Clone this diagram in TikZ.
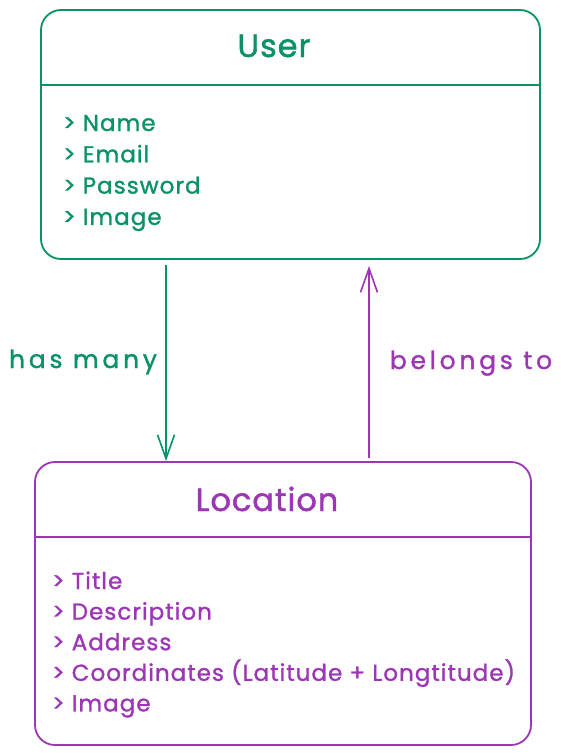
\documentclass[tikz,border=0pt]{standalone}
\usepackage{fontspec}
\setmainfont{Poppins}
\newfontfamily\hand[LetterSpace=4.5,FakeBold=1.2]{Poppins}
\newfontfamily\handtitle[LetterSpace=3,FakeBold=1.4]{Poppins}
\newfontfamily\handwide[LetterSpace=15,FakeBold=1.2]{Poppins}
\usetikzlibrary{arrows.meta}
\definecolor{exgreen}{HTML}{099268}
\definecolor{expurple}{HTML}{9C36B5}
\tikzset{
  umlbox/.style={draw, line width=1.8pt, rounded corners=20pt, inner sep=0pt},
  title/.style={font=\handtitle\fontsize{32}{36}\selectfont, inner sep=0pt, anchor=base},
  item/.style={font=\hand\fontsize{23}{28}\selectfont, anchor=base west, inner sep=0pt},
  rel/.style={line width=1.8pt, -{Straight Barb[length=24pt,width=17pt,line width=1.6pt]}},
  rellabel/.style={font=\handwide\fontsize{25}{28}\selectfont, inner sep=0pt, anchor=base}
}
\begin{document}
\begin{tikzpicture}[x=1pt,y=-1pt]
\useasboundingbox (0,0) rectangle (561,755);
% User
\node[umlbox, exgreen, minimum width=499pt, minimum height=249pt] (user) at (290.5,134.5) {};
\draw[exgreen, line width=2pt] (user.west |- 0,85) -- (user.east |- 0,85);
\node[title, text=exgreen] (usertitle) at (274,57) {User};
\foreach \t [count=\i] in {Name,Email,Password,Image}
  \node[item, text=exgreen] (u\i) at (63,131+31.3*\i-31.3) {> \t};
% Location
\node[umlbox, expurple, minimum width=496pt, minimum height=283pt] (loc) at (283,603.5) {};
\draw[expurple, line width=2pt] (loc.west |- 0,537) -- (loc.east |- 0,537);
\node[title, text=expurple] (loctitle) at (267,511) {Location};
\foreach \t [count=\i] in {Title,Description,Address,{Coordinates (Latitude + Longtitude)},Image}
  \node[item, text=expurple] (l\i) at (52,589+30.6*\i-30.6) {> \t};
% relations
\coordinate (a1) at (166,265);
\coordinate (b2) at (369,266);
\draw[rel, exgreen] (a1) -- (loc.north -| a1);
\draw[rel, expurple] (loc.north -| b2) ++(0,-3) -- (b2);
\node[rellabel, text=exgreen] (hm) at (83,368) {has many};
\node[rellabel, text=expurple] (bt) at (471,369) {belongs to};
\end{tikzpicture}
\end{document}
